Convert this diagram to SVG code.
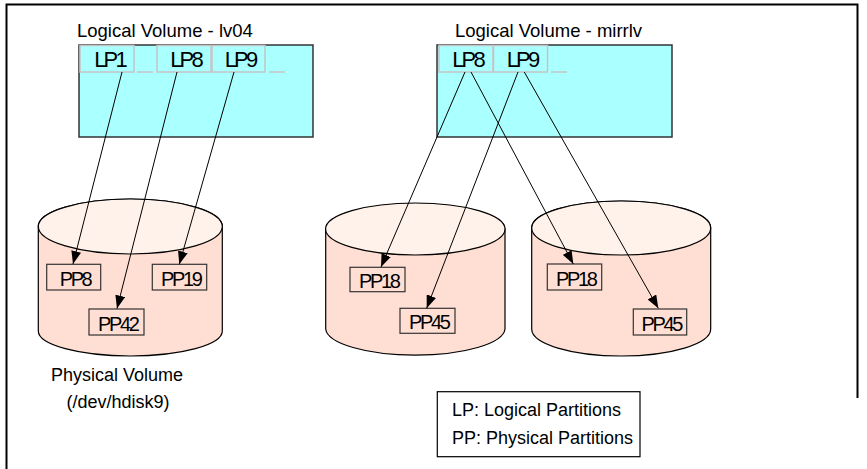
<svg xmlns="http://www.w3.org/2000/svg" width="867" height="469" viewBox="0 0 867 469">
  <style>
    text { font-family: "Liberation Sans", Arial, sans-serif; fill: #000; }
    .title { font-size: 18.5px; }
    .lp { font-size: 22px; letter-spacing: -2.8px; text-anchor: middle; }
    .pp { font-size: 20px; letter-spacing: -2.4px; text-anchor: middle; }
    .cap { font-size: 18px; text-anchor: middle; }
    .legend { font-size: 18px; }
    .lv { fill: #aaffff; stroke: #333; stroke-width: 1.5; }
    .cell { fill: none; stroke: #c4c4c4; stroke-width: 1.5; }
    .body { fill: #ffdfd3; stroke: #000; stroke-width: 1.2; }
    .lid { fill: #fff2ea; stroke: #000; stroke-width: 1.2; }
    .ppbox { fill: none; stroke: #333; stroke-width: 1.2; }
    .link { fill: none; stroke: #000; stroke-width: 1; marker-end: url(#arrow); }
  </style>
  <defs>
    <marker id="arrow" markerUnits="userSpaceOnUse" markerWidth="14" markerHeight="10" viewBox="0 0 14 10" refX="13" refY="5" orient="auto">
      <path d="M0,0 L13,5 L0,10 Z" fill="#000"/>
    </marker>
  </defs>

  <rect width="867" height="469" fill="#fff"/>
  <!-- outer frame -->
  <path d="M6.5,470 V4.5 H857.5 V398" fill="none" stroke="#000" stroke-width="2"/>

  <!-- logical volume lv04 -->
  <g id="lv04">
    <text class="title" x="77" y="37">Logical Volume - lv04</text>
    <rect class="lv" x="79" y="45" width="234" height="92"/>
    <rect class="cell" x="80" y="45.5" width="54" height="26.5"/>
    <line class="cell" x1="137" y1="72" x2="153" y2="72"/>
    <rect class="cell" x="157" y="45.5" width="54" height="26.5"/>
    <rect class="cell" x="212" y="45.5" width="53" height="26.5"/>
    <line class="cell" x1="269" y1="72" x2="285" y2="72"/>
    <text class="lp" x="109.5" y="67">LP1</text>
    <text class="lp" x="185.5" y="67">LP8</text>
    <text class="lp" x="240" y="67">LP9</text>
  </g>

  <!-- logical volume mirrlv -->
  <g id="mirrlv">
    <text class="title" x="455" y="37">Logical Volume - mirrlv</text>
    <rect class="lv" x="437" y="45" width="235" height="92"/>
    <rect class="cell" x="439" y="45.5" width="54" height="26.5"/>
    <rect class="cell" x="493.5" y="45.5" width="54" height="26.5"/>
    <line class="cell" x1="551" y1="72" x2="567" y2="72"/>
    <text class="lp" x="467.5" y="67">LP8</text>
    <text class="lp" x="522" y="67">LP9</text>
  </g>

  <!-- physical volume hdisk9 -->
  <g id="hdisk9">
    <path class="body" d="M38.3,226.5 V331 A92,25 0 0 0 222.3,331 V226.5 A92,27.5 0 0 0 38.3,226.5 Z"/>
    <ellipse class="lid" cx="130.3" cy="226.5" rx="92" ry="27.5"/>
    <rect class="ppbox" x="46.7" y="264.3" width="54" height="25.7"/>
    <rect class="ppbox" x="152.3" y="264.3" width="54.4" height="25.7"/>
    <rect class="ppbox" x="89" y="309" width="55" height="26"/>
    <text class="pp" x="75" y="286">PP8</text>
    <text class="pp" x="180.7" y="286">PP19</text>
    <text class="pp" x="117.7" y="330.5">PP42</text>
    <text class="cap" x="117" y="381">Physical Volume</text>
    <text class="cap" x="118" y="408">(/dev/hdisk9)</text>
  </g>

  <!-- mirror copy 1 -->
  <g id="mirror1">
    <path class="body" d="M325.7,229 V329 A89.7,27 0 0 0 505,329 V229 A89.7,26 0 0 0 325.7,229 Z"/>
    <ellipse class="lid" cx="415.3" cy="229" rx="89.7" ry="26"/>
    <rect class="ppbox" x="350" y="267.3" width="55" height="24.4"/>
    <rect class="ppbox" x="400" y="308.3" width="55" height="25"/>
    <text class="pp" x="378.7" y="288">PP18</text>
    <text class="pp" x="428.7" y="329">PP45</text>
  </g>

  <!-- mirror copy 2 -->
  <g id="mirror2">
    <path class="body" d="M531.7,228 V329 A89.5,27 0 0 0 710.7,329 V228 A89.5,27 0 0 0 531.7,228 Z"/>
    <ellipse class="lid" cx="621.2" cy="228" rx="89.5" ry="27"/>
    <rect class="ppbox" x="547.3" y="264" width="54.4" height="26"/>
    <rect class="ppbox" x="633.3" y="309" width="53.4" height="26"/>
    <text class="pp" x="575.7" y="286">PP18</text>
    <text class="pp" x="661.2" y="331">PP45</text>
  </g>

  <!-- legend -->
  <g id="legend">
    <rect x="437.3" y="391.7" width="202.7" height="65" fill="#fff" stroke="#000" stroke-width="1.2"/>
    <text class="legend" x="452" y="416">LP: Logical Partitions</text>
    <text class="legend" x="452" y="444">PP: Physical Partitions</text>
  </g>

  <!-- partition mappings -->
  <g id="connectors">
    <line class="link" x1="122" y1="72" x2="73" y2="264"/>
    <line class="link" x1="177" y1="72" x2="117" y2="308.5"/>
    <line class="link" x1="234" y1="72" x2="179.3" y2="264.3"/>
    <line class="link" x1="465" y1="72" x2="381" y2="267"/>
    <line class="link" x1="471" y1="72" x2="573.3" y2="264"/>
    <line class="link" x1="518" y1="72" x2="426.7" y2="308.3"/>
    <line class="link" x1="524.3" y1="72" x2="658.3" y2="308.3"/>
  </g>
</svg>
